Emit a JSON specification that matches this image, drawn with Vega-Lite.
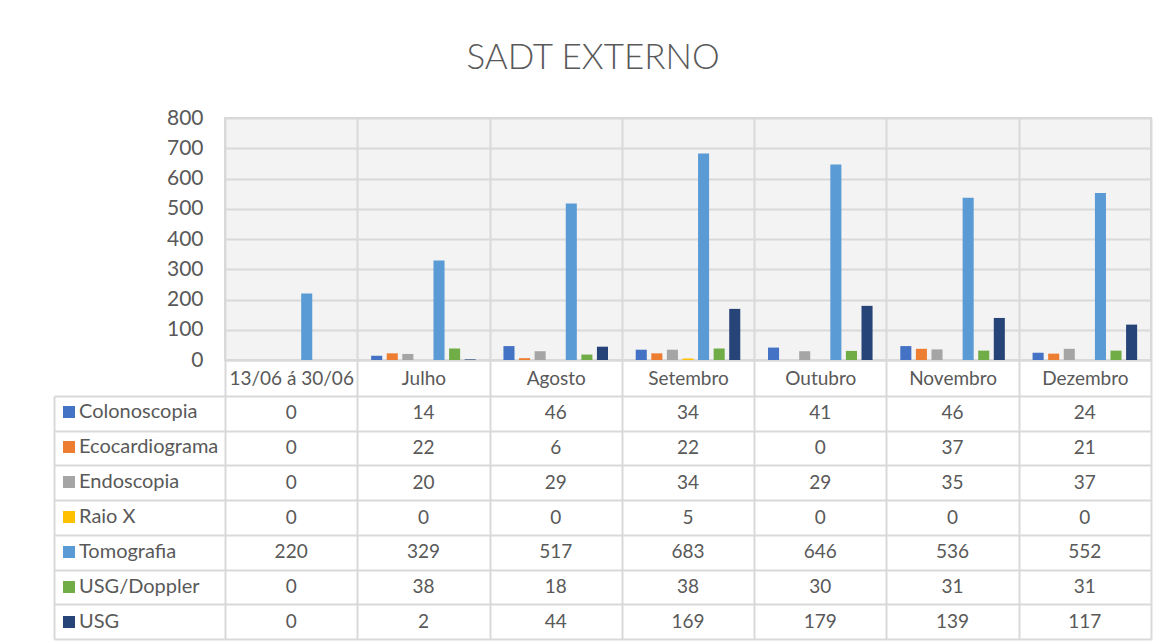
{
  "$schema": "https://vega.github.io/schema/vega-lite/v6.json",
  "width": 926,
  "height": 242,
  "autosize": {"type": "none"},
  "padding": {"left": 225, "top": 118, "right": 17, "bottom": 283},
  "background": "white",
  "title": {"text": "SADT EXTERNO", "font": "Lato", "fontSize": 35, "fontWeight": 300, "color": "#595959", "anchor": "middle", "frame": "group", "dx": -95, "offset": 31},
  "config": {
    "view": {"fill": "#f3f3f3", "stroke": "#d9d9d9", "strokeWidth": 2},
    "font": "Lato",
    "text": {"font": "Lato"}
  },
  "data": {"values": [
    {"p": "13/06 á 30/06", "s": "Colonoscopia", "v": 0},
    {"p": "Julho", "s": "Colonoscopia", "v": 14},
    {"p": "Agosto", "s": "Colonoscopia", "v": 46},
    {"p": "Setembro", "s": "Colonoscopia", "v": 34},
    {"p": "Outubro", "s": "Colonoscopia", "v": 41},
    {"p": "Novembro", "s": "Colonoscopia", "v": 46},
    {"p": "Dezembro", "s": "Colonoscopia", "v": 24},
    {"p": "13/06 á 30/06", "s": "Ecocardiograma", "v": 0},
    {"p": "Julho", "s": "Ecocardiograma", "v": 22},
    {"p": "Agosto", "s": "Ecocardiograma", "v": 6},
    {"p": "Setembro", "s": "Ecocardiograma", "v": 22},
    {"p": "Outubro", "s": "Ecocardiograma", "v": 0},
    {"p": "Novembro", "s": "Ecocardiograma", "v": 37},
    {"p": "Dezembro", "s": "Ecocardiograma", "v": 21},
    {"p": "13/06 á 30/06", "s": "Endoscopia", "v": 0},
    {"p": "Julho", "s": "Endoscopia", "v": 20},
    {"p": "Agosto", "s": "Endoscopia", "v": 29},
    {"p": "Setembro", "s": "Endoscopia", "v": 34},
    {"p": "Outubro", "s": "Endoscopia", "v": 29},
    {"p": "Novembro", "s": "Endoscopia", "v": 35},
    {"p": "Dezembro", "s": "Endoscopia", "v": 37},
    {"p": "13/06 á 30/06", "s": "Raio X", "v": 0},
    {"p": "Julho", "s": "Raio X", "v": 0},
    {"p": "Agosto", "s": "Raio X", "v": 0},
    {"p": "Setembro", "s": "Raio X", "v": 5},
    {"p": "Outubro", "s": "Raio X", "v": 0},
    {"p": "Novembro", "s": "Raio X", "v": 0},
    {"p": "Dezembro", "s": "Raio X", "v": 0},
    {"p": "13/06 á 30/06", "s": "Tomografia", "v": 220},
    {"p": "Julho", "s": "Tomografia", "v": 329},
    {"p": "Agosto", "s": "Tomografia", "v": 517},
    {"p": "Setembro", "s": "Tomografia", "v": 683},
    {"p": "Outubro", "s": "Tomografia", "v": 646},
    {"p": "Novembro", "s": "Tomografia", "v": 536},
    {"p": "Dezembro", "s": "Tomografia", "v": 552},
    {"p": "13/06 á 30/06", "s": "USG/Doppler", "v": 0},
    {"p": "Julho", "s": "USG/Doppler", "v": 38},
    {"p": "Agosto", "s": "USG/Doppler", "v": 18},
    {"p": "Setembro", "s": "USG/Doppler", "v": 38},
    {"p": "Outubro", "s": "USG/Doppler", "v": 30},
    {"p": "Novembro", "s": "USG/Doppler", "v": 31},
    {"p": "Dezembro", "s": "USG/Doppler", "v": 31},
    {"p": "13/06 á 30/06", "s": "USG", "v": 0},
    {"p": "Julho", "s": "USG", "v": 2},
    {"p": "Agosto", "s": "USG", "v": 44},
    {"p": "Setembro", "s": "USG", "v": 169},
    {"p": "Outubro", "s": "USG", "v": 179},
    {"p": "Novembro", "s": "USG", "v": 139},
    {"p": "Dezembro", "s": "USG", "v": 117}
  ]},
  "layer": [
    {
      "mark": {"type": "bar"},
      "encoding": {
        "x": {
          "field": "p", "type": "nominal",
          "scale": {"domain": ["13/06 á 30/06", "Julho", "Agosto", "Setembro", "Outubro", "Novembro", "Dezembro"], "paddingInner": 0, "paddingOuter": 0},
          "axis": {"orient": "bottom", "title": null, "tickBand": "extent", "tickSize": 279, "tickColor": "#d9d9d9", "tickWidth": 2, "grid": true, "gridColor": "#d9d9d9", "gridWidth": 2, "domainColor": "#d9d9d9", "domainWidth": 2, "labelAngle": 0, "labelPadding": -261, "labelBaseline": "middle", "labelFontSize": 19, "labelColor": "#595959", "labelFont": "Lato"}
        },
        "xOffset": {
          "field": "s", "type": "nominal",
          "scale": {"domain": ["Colonoscopia", "Ecocardiograma", "Endoscopia", "Raio X", "Tomografia", "USG/Doppler", "USG"], "paddingInner": 0.29, "paddingOuter": 0.89}
        },
        "y": {
          "field": "v", "type": "quantitative",
          "scale": {"domain": [0, 800]},
          "axis": {"orient": "left", "title": null, "values": [0, 100, 200, 300, 400, 500, 600, 700, 800], "grid": true, "gridColor": "#d9d9d9", "gridWidth": 2, "ticks": false, "domain": false, "labelPadding": 22, "labelFontSize": 21, "labelColor": "#595959", "labelFont": "Lato"}
        },
        "color": {
          "field": "s", "type": "nominal",
          "scale": {"domain": ["Colonoscopia", "Ecocardiograma", "Endoscopia", "Raio X", "Tomografia", "USG/Doppler", "USG"], "range": ["#4472C4", "#ED7D31", "#A5A5A5", "#FFC000", "#5B9BD5", "#70AD47", "#264478"]},
          "legend": {"orient": "none", "legendX": -166, "legendY": 284, "title": null, "symbolType": "square", "symbolSize": 144, "symbolStrokeWidth": 0, "labelFontSize": 20, "labelColor": "#595959", "labelFont": "Lato", "labelOffset": 0, "rowPadding": 15, "padding": 0, "direction": "vertical"}
        }
      }
    },
    {
      "mark": {"type": "text", "fontSize": 19, "color": "#595959", "font": "Lato"},
      "encoding": {
        "x": {"field": "p", "type": "nominal"},
        "y": {
          "field": "s", "type": "nominal",
          "scale": {"domain": ["Colonoscopia", "Ecocardiograma", "Endoscopia", "Raio X", "Tomografia", "USG/Doppler", "USG"], "range": [278, 521], "paddingInner": 0, "paddingOuter": 0},
          "axis": {"orient": "right", "offset": -1097, "title": null, "tickBand": "extent", "tickSize": 171, "tickColor": "#d9d9d9", "tickWidth": 2, "labels": false, "grid": true, "gridColor": "#d9d9d9", "gridWidth": 2, "domainColor": "#d9d9d9", "domainWidth": 2}
        },
        "text": {"field": "v", "type": "quantitative"}
      }
    }
  ],
  "resolve": {"scale": {"y": "independent"}}
}
